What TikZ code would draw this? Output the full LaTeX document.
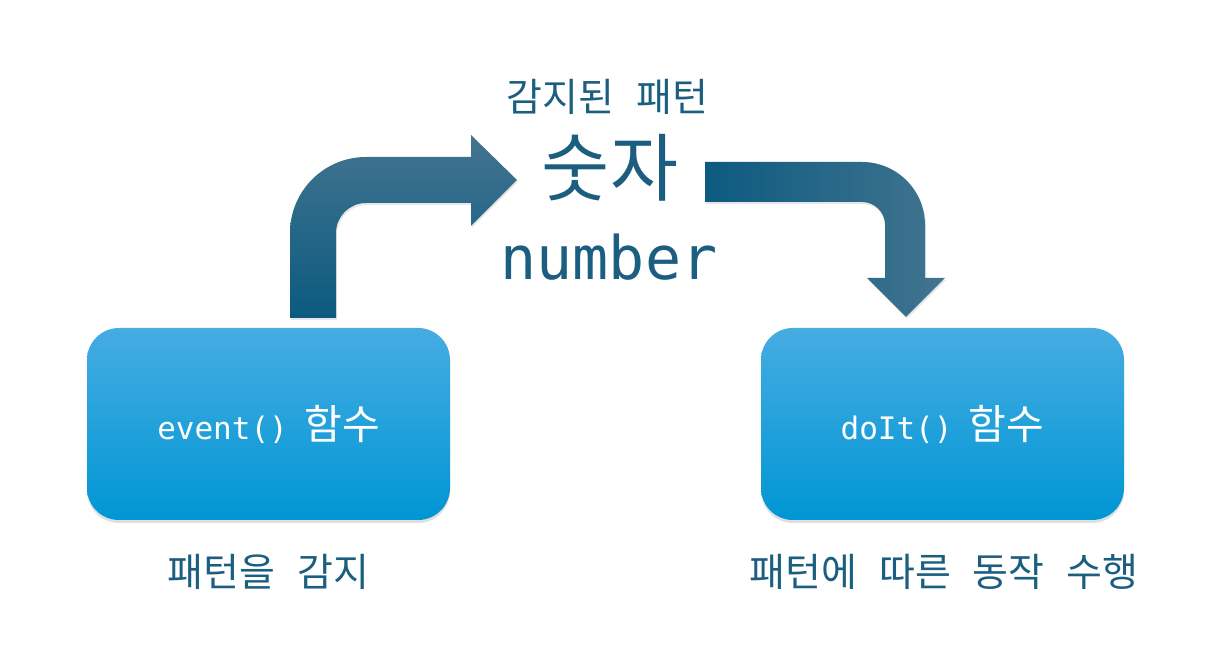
\documentclass[tikz,border=0pt]{standalone}
\usepackage{fontspec}
\newfontfamily\kr{Noto Sans CJK KR}[WordSpace=2.5]
\newfontfamily\mono{DejaVu Sans Mono}
\usetikzlibrary{shadows}

\definecolor{boxtop}{HTML}{46ACE2}
\definecolor{boxbot}{HTML}{0096D4}
\definecolor{arrdark}{HTML}{0C5A80}
\definecolor{arrlight}{HTML}{42748F}
\definecolor{txtcol}{HTML}{1B5E7F}

\tikzset{
  funcbox/.style = {rounded corners = 32pt,
                    minimum width = 363pt,
                    minimum height = 192pt,
                    top color = boxtop,
                    bottom color = boxbot,
                    text = white,
                    font = \kr\fontsize{41}{44}\selectfont,
                    drop shadow = {opacity = 0.25, shadow xshift = 0pt, shadow yshift = -3pt}},
  caption/.style = {text = txtcol, anchor = base,
                    font = \kr\fontsize{39}{44}\selectfont},
  arrowshadow/.style = {drop shadow = {opacity = 0.2, shadow xshift = 1pt, shadow yshift = -2pt}}
}

\begin{document}
\begin{tikzpicture}[x = 1pt, y = 1pt]

\useasboundingbox (0,0) rectangle (1211,668);

% function boxes
\node[funcbox] (event) at (268.5,244)
  {{\mono\fontsize{31}{40}\selectfont event()}\hspace{0.4em}함수};
\node[funcbox] (doit) at (942.5,244)
  {{\mono\fontsize{31}{40}\selectfont doIt()}\hspace{0.4em}함수};

% captions
\node[caption] (detect) at (268.5,81) {패턴을 감지};
\node[caption] (act) at (944,81) {패턴에 따른 동작 수행};

% detected pattern
\node[caption] (pattern) at (607.5,556) {감지된 패턴};
\node[text = txtcol, anchor = base, font = \kr\fontsize{74}{78}\selectfont]
  (hangul) at (610,472) {숫자};
\node[text = txtcol, anchor = base, font = \mono\fontsize{60}{64}\selectfont]
  (number) at (609,388) {number};

% bent arrow, up and right
\shade[arrowshadow, top color = arrlight, bottom color = arrdark]
  (290,350) -- (290,435) arc[start angle = 180, end angle = 90, radius = 76]
  -- (471,511) -- (471,533) -- (517,488) -- (471,442) -- (471,465)
  -- (366,465) arc[start angle = 90, end angle = 180, radius = 30]
  -- (336,350) -- cycle;

% bent arrow, right and down
\shade[arrowshadow, left color = arrdark, right color = arrlight]
  (705,506) -- (862,506) arc[start angle = 90, end angle = 0, radius = 63]
  -- (925,390) -- (945,390) -- (906,351) -- (867,390) -- (885,390)
  -- (885,443) arc[start angle = 0, end angle = 90, radius = 23]
  -- (705,466) -- cycle;

\end{tikzpicture}
\end{document}
